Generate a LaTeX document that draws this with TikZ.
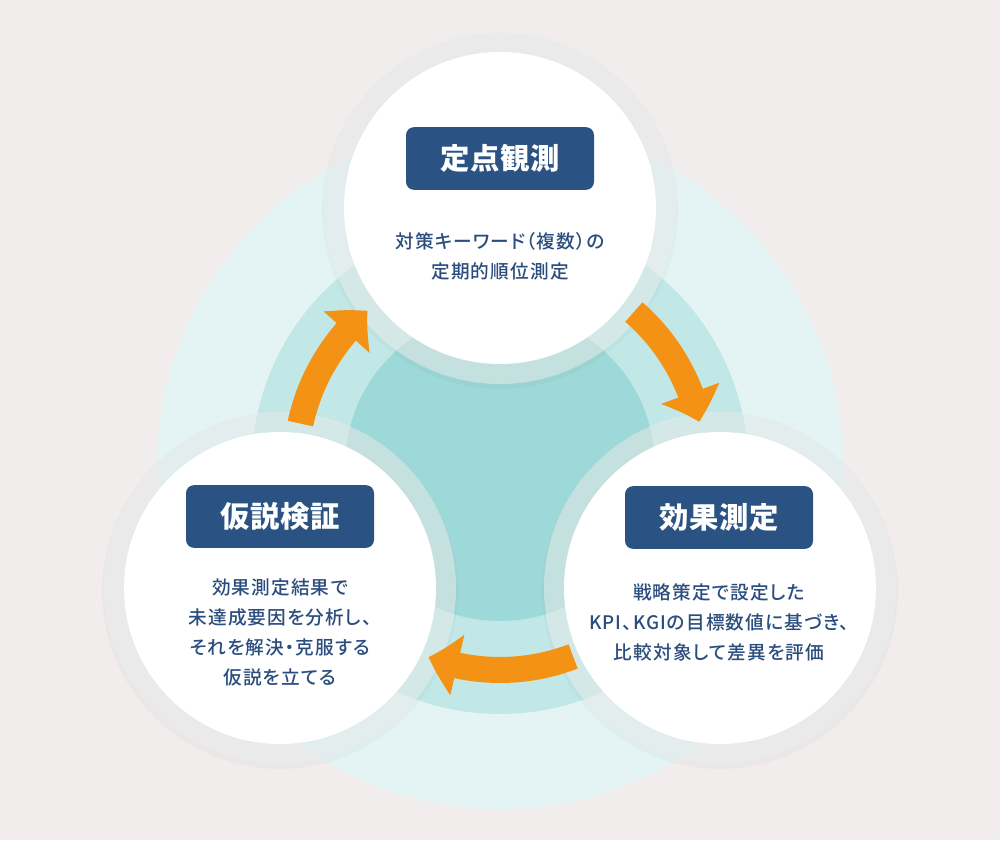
\documentclass[tikz,border=0pt]{standalone}
\usepackage{fontspec}
\usepackage{xcolor}
\usepackage{tikz}
\usetikzlibrary{arrows.meta,bending,shadows}
\newfontfamily\jpfont{Noto Sans CJK JP}[RawFeature=+palt, LetterSpace=3]
\newfontfamily\jpmed{Noto Sans CJK JP Medium}[RawFeature=+palt, LetterSpace=6]

\definecolor{bggray}{HTML}{F0EDEC}
\definecolor{cyanlight}{HTML}{E4F4F4}
\definecolor{cyanmid}{HTML}{C1E8E7}
\definecolor{cyandeep}{HTML}{9DD9D8}
\definecolor{ringgray}{HTML}{E9EDED}
\definecolor{navy}{HTML}{2A5283}
\definecolor{bodyblue}{HTML}{2A4D7E}
\definecolor{floworange}{HTML}{F39214}

\begin{document}
\begin{tikzpicture}[x=0.75pt, y=0.75pt,
    ring/.style={circle, fill=ringgray, fill opacity=0.55, minimum size=264pt, inner sep=0pt},
    disk/.style={circle, fill=white, minimum size=234pt, inner sep=0pt},
    titlebox/.style={rectangle, rounded corners=6pt, fill=navy, text=white, minimum width=141pt, minimum height=47pt, inner sep=0pt, font=\jpfont\bfseries\fontsize{22}{22}\selectfont},
    body/.style={align=center, text=bodyblue, inner sep=0pt, font=\jpmed\fontsize{14}{22.5}\selectfont},
    flow/.style={draw=floworange, line width=19.5pt, -{Triangle[width=45pt, length=22.5pt, bend]}}]
            \useasboundingbox (0,0) rectangle (1000,840);
            \fill[bggray] (0,0) rectangle (1000,840);
            
            % Background rings
            \coordinate (hub) at (500,374);
            \fill[cyanlight] (hub) circle (343);
            \fill[cyanmid] (hub) circle (248);
            \fill[cyandeep] (hub) circle (155);
            
            % Soft shadows
            \foreach \cx/\cy in {500/632, 280/252, 720/252} {
                \fill[black, opacity=0.025] (\cx,\cy-3) circle (178);
            }
            
            % Observation
            \node[ring] (obsring) at (500,632) {};
            \node[disk] (obs) at (500,632) {};
            
            % Measurement
            \node[ring] (effring) at (720,252) {};
            \node[disk] (eff) at (720,252) {};
            
            % Hypothesis
            \node[ring] (hypring) at (280,252) {};
            \node[disk] (hyp) at (280,252) {};
            
            % Cycle
            \draw[flow] ([shift={(168:204)}]hub) arc[start angle=168, end angle=130.5, radius=204];
            \draw[flow] ([shift={(49:204)}]hub) arc[start angle=49, end angle=12.5, radius=204];
            \draw[flow] ([shift={(-69:204)}]hub) arc[start angle=-69, end angle=-110.5, radius=204];
            
            % Labels
            \node[titlebox] (obstitle) at (500,681.5) {定点観測};
            \node[body] (obstext) at (500,584) {対策キーワード（複数）の\\定期的順位測定};
            
            \node[titlebox] (efftitle) at (719,322.5) {効果測定};
            \node[body] (efftext) at (719,217.5) {戦略策定で設定した\\KPI、KGIの目標数値に基づき、\\比較対象して差異を評価};
            
            \node[titlebox] (hyptitle) at (280,323.5) {仮説検証};
            \node[body] (hyptext) at (280,207.5) {効果測定結果で\\未達成要因を分析し、\\それを解決・克服する\\仮説を立てる};
        \end{tikzpicture}
\end{document}
